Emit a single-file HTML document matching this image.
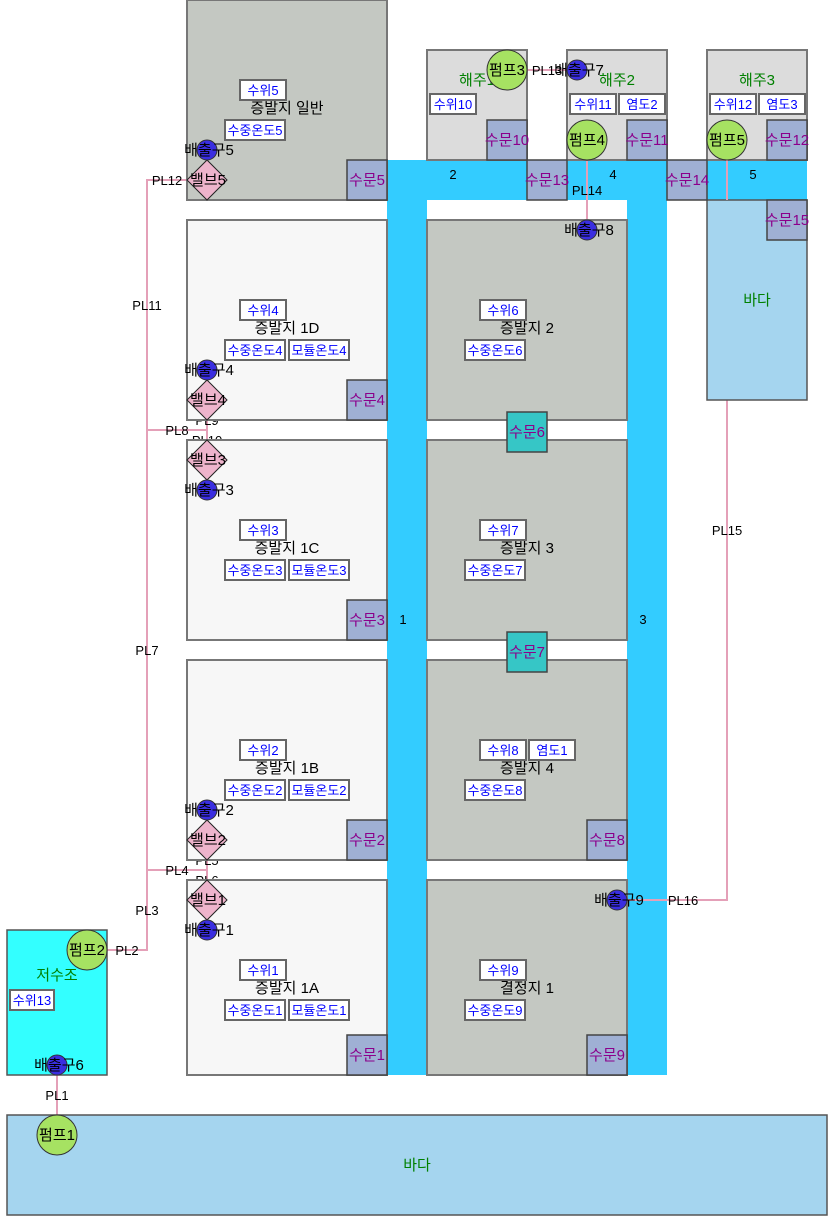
<!DOCTYPE html>
<html><head><meta charset="utf-8"><style>
html,body{margin:0;padding:0;background:#fff}
svg{display:block}
text{font-family:"Liberation Sans","Noto Sans CJK KR",sans-serif;font-size:13px}
.b{fill:#fff;stroke:#666;stroke-width:2}
.bt{fill:#00f;text-anchor:middle}
.g{fill:#9fb0d4;stroke:#444;stroke-width:1.5}
.gt{fill:#8b008b;text-anchor:middle;font-size:15px}
.p{stroke:#e4a0b8;stroke-width:2;fill:none}
.l{fill:#000;text-anchor:middle}
.k{fill:#000;text-anchor:middle;font-size:15px}
.ev{stroke:#777;stroke-width:2}
.pm{fill:#a6e262;stroke:#333;stroke-width:1}
.o{fill:#3a2ee0;stroke:#333;stroke-width:1}
.v{fill:#eeb4cc;stroke:#222;stroke-width:1}
.gr{fill:#008000;text-anchor:middle;font-size:15px}
</style></head><body>
<svg width="832" height="1227" viewBox="0 0 832 1227" xmlns="http://www.w3.org/2000/svg">
<rect x="387" y="160" width="40" height="915" fill="#33ccff"/>
<rect x="627" y="160" width="40" height="915" fill="#33ccff"/>
<rect x="387" y="160" width="420" height="40" fill="#33ccff"/>
<text class="l" x="403" y="624">1</text>
<text class="l" x="643" y="624">3</text>
<text class="l" x="453" y="179">2</text>
<text class="l" x="613" y="179">4</text>
<text class="l" x="753" y="179">5</text>

<polyline class="p" points="187,180 147,180 147,950 107,950"/>
<polyline class="p" points="147,430 207,430 207,400"/>
<line class="p" x1="207" y1="430" x2="207" y2="460"/>
<polyline class="p" points="147,870 207,870 207,840"/>
<line class="p" x1="207" y1="870" x2="207" y2="900"/>
<line class="p" x1="57" y1="1065" x2="57" y2="1135"/>
<line class="p" x1="507" y1="70" x2="577" y2="70"/>
<line class="p" x1="587" y1="140" x2="587" y2="230"/>
<polyline class="p" points="727,140 727,900 617,900"/>
<text class="l" x="167" y="185">PL12</text>
<text class="l" x="147" y="310">PL11</text>
<text class="l" x="177" y="435">PL8</text>
<text class="l" x="207" y="425">PL9</text>
<text class="l" x="207" y="445">PL10</text>
<text class="l" x="147" y="655">PL7</text>
<text class="l" x="177" y="875">PL4</text>
<text class="l" x="207" y="865">PL5</text>
<text class="l" x="207" y="885">PL6</text>
<text class="l" x="147" y="915">PL3</text>
<text class="l" x="127" y="955">PL2</text>
<text class="l" x="57" y="1100">PL1</text>
<text class="l" x="547" y="75">PL13</text>
<text class="l" x="587" y="195">PL14</text>
<text class="l" x="727" y="535">PL15</text>
<text class="l" x="683" y="905">PL16</text>

<rect class="ev" x="427" y="50" width="100" height="110" fill="#dcdcdc"/>
<rect class="ev" x="567" y="50" width="100" height="110" fill="#dcdcdc"/>
<rect class="ev" x="707" y="50" width="100" height="110" fill="#dcdcdc"/>
<text class="gr" x="477" y="85">해주1</text>
<text class="gr" x="617" y="85">해주2</text>
<text class="gr" x="757" y="85">해주3</text>
<rect class="b" x="430" y="94" width="46" height="20"/><text class="bt" x="453" y="109">수위10</text>
<rect class="b" x="570" y="94" width="46" height="20"/><text class="bt" x="593" y="109">수위11</text>
<rect class="b" x="619" y="94" width="46" height="20"/><text class="bt" x="642" y="109">염도2</text>
<rect class="b" x="710" y="94" width="46" height="20"/><text class="bt" x="733" y="109">수위12</text>
<rect class="b" x="759" y="94" width="46" height="20"/><text class="bt" x="782" y="109">염도3</text>

<rect x="707" y="200" width="100" height="200" fill="#a5d5ef" stroke="#555" stroke-width="1.5"/>
<text class="gr" x="757" y="305">바다</text>
<line class="p" x1="727" y1="160" x2="727" y2="200"/>

<rect class="ev" x="187" y="0" width="200" height="200" fill="#c4c8c2"/>
<rect class="ev" x="187" y="220" width="200" height="200" fill="#f7f7f7"/>
<rect class="ev" x="187" y="440" width="200" height="200" fill="#f7f7f7"/>
<rect class="ev" x="187" y="660" width="200" height="200" fill="#f7f7f7"/>
<rect class="ev" x="187" y="880" width="200" height="195" fill="#f7f7f7"/>
<rect class="ev" x="427" y="220" width="200" height="200" fill="#c4c8c2"/>
<rect class="ev" x="427" y="440" width="200" height="200" fill="#c4c8c2"/>
<rect class="ev" x="427" y="660" width="200" height="200" fill="#c4c8c2"/>
<rect class="ev" x="427" y="880" width="200" height="195" fill="#c4c8c2"/>

<g>
<text class="k" x="287" y="113">증발지 일반</text>
<rect class="b" x="240" y="80" width="46" height="20"/><text class="bt" x="263" y="95">수위5</text>
<rect class="b" x="225" y="120" width="60" height="20"/><text class="bt" x="255" y="135">수중온도5</text>

<text class="k" x="287" y="333">증발지 1D</text>
<rect class="b" x="240" y="300" width="46" height="20"/><text class="bt" x="263" y="315">수위4</text>
<rect class="b" x="225" y="340" width="60" height="20"/><text class="bt" x="255" y="355">수중온도4</text>
<rect class="b" x="289" y="340" width="60" height="20"/><text class="bt" x="319" y="355">모듈온도4</text>

<text class="k" x="287" y="553">증발지 1C</text>
<rect class="b" x="240" y="520" width="46" height="20"/><text class="bt" x="263" y="535">수위3</text>
<rect class="b" x="225" y="560" width="60" height="20"/><text class="bt" x="255" y="575">수중온도3</text>
<rect class="b" x="289" y="560" width="60" height="20"/><text class="bt" x="319" y="575">모듈온도3</text>

<text class="k" x="287" y="773">증발지 1B</text>
<rect class="b" x="240" y="740" width="46" height="20"/><text class="bt" x="263" y="755">수위2</text>
<rect class="b" x="225" y="780" width="60" height="20"/><text class="bt" x="255" y="795">수중온도2</text>
<rect class="b" x="289" y="780" width="60" height="20"/><text class="bt" x="319" y="795">모듈온도2</text>

<text class="k" x="287" y="993">증발지 1A</text>
<rect class="b" x="240" y="960" width="46" height="20"/><text class="bt" x="263" y="975">수위1</text>
<rect class="b" x="225" y="1000" width="60" height="20"/><text class="bt" x="255" y="1015">수중온도1</text>
<rect class="b" x="289" y="1000" width="60" height="20"/><text class="bt" x="319" y="1015">모듈온도1</text>
</g>
<g>
<text class="k" x="527" y="333">증발지 2</text>
<rect class="b" x="480" y="300" width="46" height="20"/><text class="bt" x="503" y="315">수위6</text>
<rect class="b" x="465" y="340" width="60" height="20"/><text class="bt" x="495" y="355">수중온도6</text>

<text class="k" x="527" y="553">증발지 3</text>
<rect class="b" x="480" y="520" width="46" height="20"/><text class="bt" x="503" y="535">수위7</text>
<rect class="b" x="465" y="560" width="60" height="20"/><text class="bt" x="495" y="575">수중온도7</text>

<text class="k" x="527" y="773">증발지 4</text>
<rect class="b" x="480" y="740" width="46" height="20"/><text class="bt" x="503" y="755">수위8</text>
<rect class="b" x="529" y="740" width="46" height="20"/><text class="bt" x="552" y="755">염도1</text>
<rect class="b" x="465" y="780" width="60" height="20"/><text class="bt" x="495" y="795">수중온도8</text>

<text class="k" x="527" y="993">결정지 1</text>
<rect class="b" x="480" y="960" width="46" height="20"/><text class="bt" x="503" y="975">수위9</text>
<rect class="b" x="465" y="1000" width="60" height="20"/><text class="bt" x="495" y="1015">수중온도9</text>
</g>

<g>
<rect class="g" x="347" y="160" width="40" height="40"/><text class="gt" x="367" y="185">수문5</text>
<rect class="g" x="347" y="380" width="40" height="40"/><text class="gt" x="367" y="405">수문4</text>
<rect class="g" x="347" y="600" width="40" height="40"/><text class="gt" x="367" y="625">수문3</text>
<rect class="g" x="347" y="820" width="40" height="40"/><text class="gt" x="367" y="845">수문2</text>
<rect class="g" x="347" y="1035" width="40" height="40"/><text class="gt" x="367" y="1060">수문1</text>
<rect class="g" x="587" y="820" width="40" height="40"/><text class="gt" x="607" y="845">수문8</text>
<rect class="g" x="587" y="1035" width="40" height="40"/><text class="gt" x="607" y="1060">수문9</text>
<rect class="g" x="507" y="412" width="40" height="40" style="fill:#36c6c6"/><text class="gt" x="527" y="437">수문6</text>
<rect class="g" x="507" y="632" width="40" height="40" style="fill:#36c6c6"/><text class="gt" x="527" y="657">수문7</text>
<rect class="g" x="487" y="120" width="40" height="40"/><text class="gt" x="507" y="145">수문10</text>
<rect class="g" x="627" y="120" width="40" height="40"/><text class="gt" x="647" y="145">수문11</text>
<rect class="g" x="767" y="120" width="40" height="40"/><text class="gt" x="787" y="145">수문12</text>
<rect class="g" x="527" y="160" width="40" height="40"/><text class="gt" x="547" y="185">수문13</text>
<rect class="g" x="667" y="160" width="40" height="40"/><text class="gt" x="687" y="185">수문14</text>
<rect class="g" x="767" y="200" width="40" height="40"/><text class="gt" x="787" y="225">수문15</text>
</g>

<rect x="7" y="930" width="100" height="145" fill="#33ffff" stroke="#555" stroke-width="1.5"/>
<text class="gr" x="57" y="980">저수조</text>
<rect class="b" x="10" y="990" width="44" height="20"/><text class="bt" x="32" y="1005">수위13</text>
<rect x="7" y="1115" width="820" height="100" fill="#a5d5ef" stroke="#555" stroke-width="1.5"/>
<text class="gr" x="417" y="1170">바다</text>

<g>
<polygon class="v" points="207,160 227,180 207,200 187,180"/><text class="k" x="208" y="185">밸브5</text>
<polygon class="v" points="207,380 227,400 207,420 187,400"/><text class="k" x="208" y="405">밸브4</text>
<polygon class="v" points="207,440 227,460 207,480 187,460"/><text class="k" x="208" y="465">밸브3</text>
<polygon class="v" points="207,820 227,840 207,860 187,840"/><text class="k" x="208" y="845">밸브2</text>
<polygon class="v" points="207,880 227,900 207,920 187,900"/><text class="k" x="208" y="905">밸브1</text>
</g>

<g>
<circle class="pm" cx="507" cy="70" r="20"/><text class="k" x="507" y="75">펌프3</text>
<circle class="pm" cx="587" cy="140" r="20"/><text class="k" x="587" y="145">펌프4</text>
<circle class="pm" cx="727" cy="140" r="20"/><text class="k" x="727" y="145">펌프5</text>
<circle class="pm" cx="87" cy="950" r="20"/><text class="k" x="87" y="955">펌프2</text>
<circle class="pm" cx="57" cy="1135" r="20"/><text class="k" x="57" y="1140">펌프1</text>
</g>

<g>
<circle class="o" cx="207" cy="150" r="10"/><text class="k" x="209" y="155">배출구5</text>
<circle class="o" cx="207" cy="370" r="10"/><text class="k" x="209" y="375">배출구4</text>
<circle class="o" cx="207" cy="490" r="10"/><text class="k" x="209" y="495">배출구3</text>
<circle class="o" cx="207" cy="810" r="10"/><text class="k" x="209" y="815">배출구2</text>
<circle class="o" cx="207" cy="930" r="10"/><text class="k" x="209" y="935">배출구1</text>
<circle class="o" cx="57" cy="1065" r="10"/><text class="k" x="59" y="1070">배출구6</text>
<circle class="o" cx="577" cy="70" r="10"/><text class="k" x="579" y="75">배출구7</text>
<circle class="o" cx="587" cy="230" r="10"/><text class="k" x="589" y="235">배출구8</text>
<circle class="o" cx="617" cy="900" r="10"/><text class="k" x="619" y="905">배출구9</text>
</g>
</svg>
</body></html>
